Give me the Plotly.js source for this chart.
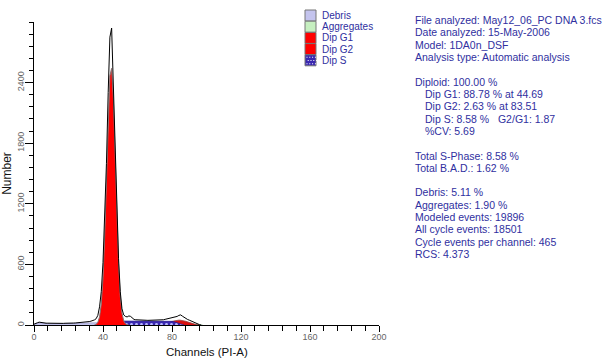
<!DOCTYPE html>
<html><head><meta charset="utf-8">
<script src="https://cdn.plot.ly/plotly-3.0.1.min.js"></script>
<style>html,body{margin:0;padding:0;background:#fff}#chart{width:613px;height:358px}</style>
</head><body><div id="chart"></div>
<script>
// ---- data ----
const countsStart = 0;
const counts = [8,18,22,28,24,20,19,18,18,17,16,16,17,16,15,16,15,16,17,16,17,18,20,19,20,21,22,22,24,25,27,30,34,38,42,50,62,95,180,330,620,1050,1600,2300,2850,2940,2400,1750,1150,660,330,160,100,85,80,90,85,70,55,52,50,49,48,48,47,47,46,46,45,46,46,47,47,48,50,52,56,60,63,66,68,72,80,85,95,100,88,75,62,55,48,40,32,24,15,8,3,0];
const debrisStart = 0;
const debris = [6,15,19,22,19,16,15,14,14,13,13,13,13,13,12,12,12,13,13,13,13,14,15,15,16,16,17,17,18,19,20,21,22,23,24,25,24,23,22,21,20,19,18,17,16,16,15,15,14,14,13,13,12,12,12,11,11,11,10,10,10,10,9,9,9,9,9,8,8,8,8,8,8,7,7,7,7,7,7,6,6,6,6,6,6,5,5,5,5,4,4,4,3,3,2,2,1,0];
const aggStart = 84;
const aggregates = [0,2,4,6,8,9,10,10,9,8,7,6,4,3,0];
const sStart = 38;
const sPhase = [0,10,19,26,31,35,37,38,39,39,39,39,39,39,40,40,40,40,40,40,40,40,40,40,40,40,40,40,40,40,41,41,41,41,41,41,40,40,40,40,39,38,36,33,29,23,17,10,5,0];
const g1Start = 35;
const g1 = [0,5,26,80,208,466,891,1461,2052,2467,2541,2241,1694,1095,607,288,117,41,12,3,0];
const g2Start = 74;
const g2 = [0,7,12,17,23,29,35,40,44,47,48,47,45,42,37,31,25,18,12,7,4,2,0];
const peakPositions = [44.69, 83.51];
const xTicks = [0,40,80,120,160,200];
const yTicks = [0,600,1200,1800,2400];
const legendNames = ['Debris','Aggregates','Dip G1','Dip G2','Dip S'];
const infoLines = [
  ['File analyzed: May12_06_PC DNA 3.fcs',0],
  ['Date analyzed: 15-May-2006',0],
  ['Model: 1DA0n_DSF',0],
  ['Analysis type: Automatic analysis',0],
  ['',0],
  ['Diploid: 100.00 %',0],
  ['Dip G1: 88.78 % at 44.69',1],
  ['Dip G2: 2.63 % at 83.51',1],
  ['Dip S: 8.58 %&nbsp;&nbsp;&nbsp;G2/G1: 1.87',1],
  ['%CV: 5.69',1],
  ['',0],
  ['Total S-Phase: 8.58 %',0],
  ['Total B.A.D.: 1.62 %',0],
  ['',0],
  ['Debris: 5.11 %',0],
  ['Aggregates: 1.90 %',0],
  ['Modeled events: 19896',0],
  ['All cycle events: 18501',0],
  ['Cycle events per channel: 465',0],
  ['RCS: 4.373',0]
];

// ---- helpers ----
const chan = (start, arr) => arr.map((_, i) => start + i);
const M = {l:34, r:234, t:22, b:33, W:613, H:358};
const pw = M.W - M.l - M.r, ph = M.H - M.t - M.b;
const px2x = p => (p - M.l) / pw;
const py2y = p => (M.H - M.b - p) / ph;
const FONT = 'Liberation Sans, Arial, sans-serif';
const BLUE_TXT = '#2f2fa0';
const S_BLUE = '#3a28b0';

const traces = [
  {x: chan(debrisStart, debris), y: debris, type:'scatter', mode:'lines', fill:'tozeroy',
   fillcolor:'#c4c4ee', line:{color:'#9a9ac8', width:0.8}, hoverinfo:'skip'},
  {x: chan(aggStart, aggregates), y: aggregates, type:'scatter', mode:'lines', fill:'tozeroy',
   fillcolor:'#c6efc0', line:{color:'#9ac89a', width:0.5}, hoverinfo:'skip'},
  {x: chan(g2Start, g2), y: g2, type:'scatter', mode:'lines', fill:'tozeroy',
   fillcolor:'#d81010', line:{color:'#904848', width:0.8}, hoverinfo:'skip'},
  {x: chan(sStart, sPhase), y: sPhase, type:'scatter', mode:'lines', fill:'tozeroy',
   fillcolor:S_BLUE, fillpattern:{shape:'.', fgcolor:'#b8b8ff', bgcolor:S_BLUE, size:5, solidity:0.25},
   line:{color:'#2a1a90', width:0.8}, hoverinfo:'skip'},
  {x: chan(g1Start, g1), y: g1, type:'scatter', mode:'lines', fill:'tozeroy',
   fillcolor:'#ff0000', line:{color:'#8a7070', width:1}, hoverinfo:'skip'},
  {x: chan(countsStart, counts), y: counts, type:'scatter', mode:'lines',
   line:{color:'#000', width:1}, hoverinfo:'skip'},
  {x: peakPositions, y: peakPositions.map(() => -62), type:'scatter', mode:'markers', cliponaxis:false,
   marker:{symbol:'triangle-up', size:11, color:'#000'}, hoverinfo:'skip'}
];

// legend (manual, compact)
const swatchFill = ['#c4c4ee','#c6efc0','#ff0000','#ff0000',S_BLUE];
const shapes = [], annotations = [];
legendNames.forEach((name, i) => {
  const top = 10 + i * 11.2, bot = top + 11;
  shapes.push({type:'rect', xref:'paper', yref:'paper', x0:px2x(305), x1:px2x(316), y0:py2y(bot), y1:py2y(top),
    fillcolor: swatchFill[i], line:{color:'#777', width:1}, layer:'above'});
  annotations.push({xref:'paper', yref:'paper', x:px2x(320), y:py2y((top+bot)/2), xanchor:'left', yanchor:'middle',
    text:name, showarrow:false, font:{family:FONT, size:10, color:BLUE_TXT}});
});
// dots on Dip S swatch
for (let r = 0; r < 3; r++) for (let c = 0; c < 4; c++) {
  const cx = 306.5 + c * 2.8 + (r % 2) * 1.2, cy = 10 + 4*11.2 + 2 + r * 3.2;
  shapes.push({type:'rect', xref:'paper', yref:'paper', x0:px2x(cx), x1:px2x(cx+1), y0:py2y(cy+1), y1:py2y(cy),
    fillcolor:'#ffffff', line:{width:0}, layer:'above'});
}
infoLines.forEach(([t, ind], i) => {
  if (!t) return;
  annotations.push({xref:'paper', yref:'paper', x:px2x(413 + ind * 10), y:py2y(20 + i * 12.32), xanchor:'left', yanchor:'middle',
    text:t, showarrow:false, font:{family:FONT, size:10.5, color:BLUE_TXT}});
});
// x-axis title placed explicitly
annotations.push({xref:'paper', yref:'paper', x:0.5, y:py2y(359), xanchor:'center', yanchor:'bottom', borderpad:0,
  text:'Channels (PI-A)', showarrow:false, font:{family:FONT, size:11.5, color:'#111'}});

const layout = {
  width:613, height:358, margin:{l:M.l, r:M.r, t:M.t, b:M.b, pad:0},
  paper_bgcolor:'#fff', plot_bgcolor:'#fff', showlegend:false,
  font:{family:FONT, size:10, color:'#000'},
  xaxis:{range:[0,200], tickvals:xTicks, ticktext:xTicks.map(String), showgrid:false, zeroline:false,
    showline:true, linecolor:'#000', linewidth:1, ticks:'outside', ticklen:6, tickcolor:'#000', tickwidth:1,
    ticklabelstandoff:-3,
    minor:{dtick:8, ticks:'outside', ticklen:5, tickcolor:'#000', tickwidth:1, showgrid:false},
    tickfont:{family:FONT, size:9, color:'#666'}},
  yaxis:{range:[0,3000], tickvals:yTicks, ticktext:yTicks.map(String), showgrid:false, zeroline:false,
    showline:true, linecolor:'#000', linewidth:1, ticks:'outside', ticklen:8, tickcolor:'#000', tickwidth:1,
    ticklabelstandoff:-3,
    minor:{dtick:120, ticks:'outside', ticklen:4, tickcolor:'#000', tickwidth:1, showgrid:false},
    tickangle:-90, tickfont:{family:FONT, size:9, color:'#666'},
    title:{text:'Number', font:{family:FONT, size:12, color:'#111'}, standoff:4}},
  shapes:shapes, annotations:annotations
};
Plotly.newPlot('chart', traces, layout, {staticPlot:true, displayModeBar:false});
</script></body></html>
